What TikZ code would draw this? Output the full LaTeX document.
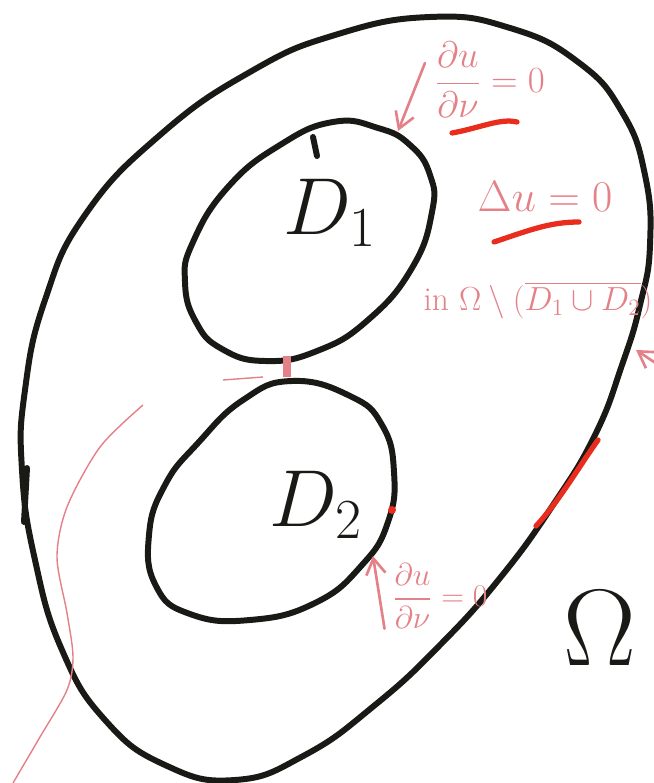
\documentclass[tikz,border=0pt]{standalone}
\usepackage{fix-cm}
\usepackage{amsmath}
\usetikzlibrary{positioning,arrows.meta}
\definecolor{ink}{RGB}{25,25,22}
\definecolor{pinkink}{RGB}{228,128,135}
\definecolor{redink}{RGB}{232,45,30}

\begin{document}
\begin{tikzpicture}[
    x=0.02cm, y=-0.02cm,
    bound/.style={draw=ink, line width=3.4pt, line cap=round, line join=round},
    pen/.style={draw=pinkink, line width=1.5pt, line cap=round, >={Straight Barb[length=9pt, width=11pt]}},
    hilite/.style={draw=redink, line width=3pt, line cap=round},
    note/.style={text=pinkink, inner sep=1pt},
    tag/.style={text=ink, inner sep=1pt, font=\fontsize{46}{48}\selectfont}
]
\useasboundingbox (0,0) rectangle (653,783);

% Outer domain
\draw[bound] plot[smooth cycle, tension=0.8] coordinates {
    (430,17) (510,28) (578,62) (622,112) (645,175) (650,245) (640,305)
    (622,365) (595,435) (553,505) (500,578) (440,645) (375,705) (305,755)
    (235,780) (165,765) (105,720) (62,650) (35,560) (22,470) (25,390)
    (45,300) (85,215) (160,135) (250,72) (335,35)};
\draw[bound] (27,468) -- (24,522);

% Inclusions
\draw[bound] plot[smooth cycle, tension=0.8] coordinates {
    (333,122) (378,128) (410,145) (430,175) (432,212) (412,268) (368,320)
    (317,351) (265,361) (222,349) (196,322) (185,282) (193,242) (228,187)
    (280,145)};
\draw[bound] (313,137) -- (317,156);
\draw[bound] plot[smooth cycle, tension=0.8] coordinates {
    (292,381) (350,396) (382,425) (394,472) (388,522) (362,565) (315,603)
    (250,620) (190,614) (156,586) (149,535) (165,485) (198,443) (243,400)};

\node[tag] (d1) at (330,213) {$D_1$};
\node[tag] (d2) at (316,505) {$D_2$};
\node[tag, font=\fontsize{62}{64}\selectfont] (omega) at (600,628) {$\Omega$};

% Pink sketch lines
\draw[pinkink, line width=0.8pt] plot[smooth] coordinates {
    (143,405) (100,447) (67,507) (57,557) (67,613) (73,657) (67,690) (40,737) (13,783)};
\draw[pinkink, line width=0.8pt] (223,380) -- (263,377);
\draw[pinkink, line width=4pt] (287,356) -- (287,377);

% Conditions
\node[note, font=\fontsize{21}{24}\selectfont] (bc1) at (490,80) {$\dfrac{\partial u}{\partial\nu}=0$};
\node[note, font=\fontsize{25}{28}\selectfont] (lap) at (545,196) {$\Delta u=0$};
\node[note, font=\fontsize{19}{22}\selectfont] (dom) at (538,300) {in $\Omega\setminus(\overline{D_1\cup D_2})$};
\node[note, font=\fontsize{18}{21}\selectfont] (bc2) at (440,596) {$\dfrac{\partial u}{\partial\nu}=0$};

\coordinate (hit1) at (398,131);
\coordinate (hit2) at (373,556);
\coordinate (hit3) at (636,350);
\coordinate (off3) at (672,374);
\draw[pen, ->] ([shift={(-8,-17)}]bc1.west) -- (hit1);
\draw[pen, ->] ([shift={(-6,-2)}]bc2.south west) -- (hit2);
\draw[pen, ->] (off3) -- (hit3);

% Red marks
\draw[hilite] (452,133) .. controls (480,128) and (500,118) .. (517,122);
\draw[hilite] (494,242) .. controls (530,230) and (550,222) .. (579,222);
\draw[hilite] (536,526) .. controls (560,500) and (580,465) .. (598,440);
\fill[redink] (392,510) circle (4);

\end{tikzpicture}
\end{document}
